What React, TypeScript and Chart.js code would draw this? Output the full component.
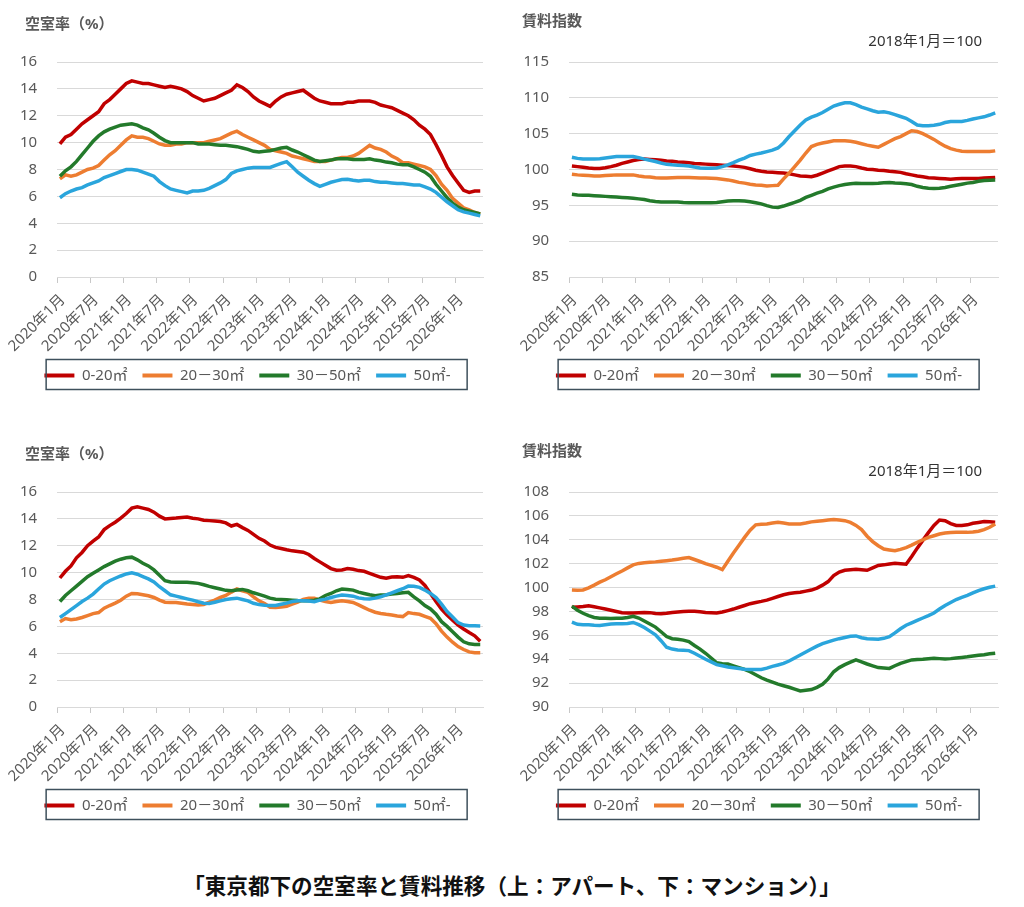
import React, { useEffect, useRef } from 'react';
import { Chart, registerables } from 'chart.js';

Chart.register(...registerables);

const FONT = '"Noto Sans", "Noto Sans CJK JP", sans-serif';
const TEXT = '#595959';
const GRID = '#d9d9d9';

// 2020年1月 .. 2026年5月 (77 months)
const months: string[] = [];
for (let i = 0; i < 77; i++) months.push(`${2020 + Math.floor(i / 12)}年${(i % 12) + 1}月`);

const sizeLabels = ['0-20㎡', '20－30㎡', '30－50㎡', '50㎡-'];
const lineColors = ['#c00000', '#ed7d31', '#237a2b', '#2aa5dc'];

// アパート 空室率
const apVac0_20 = [
  9.9, 10.4, 10.6, 11.0, 11.4, 11.7, 12.0, 12.3, 12.9, 13.2, 13.6, 14.0,
  14.4, 14.6, 14.5, 14.4, 14.4, 14.3, 14.2, 14.1, 14.2, 14.1, 14.0, 13.8,
  13.5, 13.3, 13.1, 13.2, 13.3, 13.5, 13.7, 13.9, 14.3, 14.1, 13.8, 13.4,
  13.1, 12.9, 12.7, 13.1, 13.4, 13.6, 13.7, 13.8, 13.9, 13.6, 13.3, 13.1,
  13.0, 12.9, 12.9, 12.9, 13.0, 13.0, 13.1, 13.1, 13.1, 13.0, 12.8, 12.7,
  12.6, 12.4, 12.2, 12.0, 11.7, 11.3, 11.0, 10.6, 9.85, 9.05, 8.2, 7.55,
  7.0, 6.45, 6.3, 6.4, 6.4,
];
const apVac20_30 = [
  7.3, 7.6, 7.5, 7.6, 7.8, 8.0, 8.1, 8.3, 8.7, 9.1, 9.4, 9.8,
  10.2, 10.5, 10.4, 10.4, 10.3, 10.1, 9.9, 9.8, 9.8, 9.9, 9.9, 10.0,
  10.0, 10.0, 10.0, 10.1, 10.2, 10.3, 10.5, 10.7, 10.85, 10.6, 10.4, 10.2,
  10.0, 9.8, 9.5, 9.4, 9.3, 9.2, 9.0, 8.9, 8.8, 8.7, 8.6, 8.6,
  8.6, 8.7, 8.8, 8.9, 8.9, 9.0, 9.2, 9.5, 9.8, 9.6, 9.5, 9.3,
  9.0, 8.8, 8.5, 8.5, 8.4, 8.3, 8.2, 8.0, 7.55, 6.9, 6.45, 5.85,
  5.5, 5.15, 5.0, 4.8, 4.7,
];
const apVac30_50 = [
  7.5, 7.9, 8.2, 8.6, 9.1, 9.6, 10.1, 10.5, 10.8, 11.0, 11.15, 11.3,
  11.35, 11.4, 11.3, 11.1, 10.95, 10.7, 10.4, 10.15, 10.0, 10.0, 10.0, 10.0,
  10.0, 9.9, 9.9, 9.9, 9.85, 9.8, 9.8, 9.75, 9.7, 9.6, 9.5, 9.35,
  9.3, 9.35, 9.4, 9.5, 9.6, 9.65, 9.45, 9.3, 9.1, 8.9, 8.7, 8.6,
  8.65, 8.7, 8.8, 8.8, 8.8, 8.75, 8.75, 8.75, 8.8, 8.7, 8.65, 8.55,
  8.5, 8.4, 8.35, 8.35, 8.2, 8.0, 7.8, 7.5, 6.9, 6.4, 5.9, 5.5,
  5.2, 5.0, 4.9, 4.8, 4.7,
];
const apVac50 = [
  5.9, 6.2, 6.4, 6.55, 6.65, 6.85, 7.0, 7.15, 7.4, 7.55, 7.7, 7.85,
  8.0, 8.0, 7.95, 7.8, 7.65, 7.5, 7.1, 6.8, 6.55, 6.45, 6.35, 6.25,
  6.4, 6.4, 6.45, 6.6, 6.8, 7.0, 7.25, 7.7, 7.9, 8.0, 8.1, 8.15,
  8.15, 8.15, 8.15, 8.3, 8.45, 8.58, 8.2, 7.8, 7.5, 7.2, 6.95, 6.75,
  6.9, 7.05, 7.15, 7.25, 7.28, 7.2, 7.15, 7.2, 7.2, 7.1, 7.05, 7.05,
  7.0, 6.95, 6.95, 6.9, 6.85, 6.85, 6.7, 6.55, 6.3, 5.95, 5.6, 5.3,
  5.0, 4.85, 4.75, 4.65, 4.55,
];

// アパート 賃料指数
const apRent0_20 = [
  100.5, 100.4, 100.3, 100.2, 100.15, 100.15, 100.25, 100.4, 100.6, 100.85, 101.05, 101.25,
  101.4, 101.45, 101.4, 101.35, 101.3, 101.2, 101.15, 101.05, 101.0, 100.95, 100.85, 100.8,
  100.75, 100.7, 100.65, 100.6, 100.55, 100.5, 100.4, 100.3, 100.1, 99.9, 99.75, 99.65,
  99.6, 99.55, 99.5, 99.4, 99.25, 99.1, 99.05, 99.0, 99.2, 99.5, 99.8, 100.1,
  100.4, 100.5, 100.5, 100.4, 100.2, 100.05, 100.0, 99.9, 99.85, 99.75, 99.7, 99.6,
  99.4, 99.25, 99.1, 99.0, 98.85, 98.8, 98.75, 98.7, 98.65, 98.7, 98.75, 98.75,
  98.75, 98.75, 98.8, 98.85, 98.9,
];
const apRent20_30 = [
  99.35, 99.25, 99.2, 99.15, 99.1, 99.1, 99.15, 99.2, 99.25, 99.25, 99.25, 99.25,
  99.1, 99.0, 98.95, 98.85, 98.8, 98.82, 98.86, 98.88, 98.88, 98.88, 98.85, 98.83,
  98.8, 98.78, 98.75, 98.65, 98.55, 98.4, 98.2, 98.1, 97.95, 97.85, 97.8, 97.7,
  97.75, 97.8, 98.7, 99.5, 100.4, 101.3, 102.3, 103.2, 103.5, 103.7, 103.85, 104.0,
  104.0, 104.0, 103.95, 103.8, 103.6, 103.4, 103.25, 103.1, 103.5, 103.9, 104.3, 104.6,
  105.0, 105.4, 105.3, 105.0, 104.6, 104.2, 103.7, 103.25, 102.9, 102.7, 102.55, 102.5,
  102.5, 102.5, 102.5, 102.5, 102.6,
];
const apRent30_50 = [
  96.55, 96.45, 96.4, 96.4, 96.35, 96.3, 96.25, 96.2, 96.15, 96.1, 96.05, 96.0,
  95.9, 95.8, 95.65, 95.55, 95.47, 95.47, 95.47, 95.45, 95.4, 95.37, 95.37, 95.37,
  95.37, 95.37, 95.4, 95.5, 95.6, 95.65, 95.65, 95.6, 95.5, 95.35, 95.2, 94.95,
  94.75, 94.7, 94.9, 95.15, 95.4, 95.7, 96.1, 96.4, 96.7, 96.95, 97.3, 97.55,
  97.75, 97.9, 98.0, 98.08, 98.05, 98.04, 98.05, 98.08, 98.15, 98.18, 98.12, 98.08,
  98.0, 97.9, 97.65, 97.5, 97.4, 97.35, 97.38, 97.5, 97.65, 97.8, 97.95, 98.1,
  98.2, 98.35, 98.45, 98.5, 98.55,
];
const apRent50 = [
  101.7, 101.55, 101.45, 101.45, 101.45, 101.5, 101.6, 101.7, 101.8, 101.82, 101.82, 101.82,
  101.65, 101.45, 101.3, 101.12, 100.9, 100.72, 100.65, 100.6, 100.55, 100.5, 100.35, 100.2,
  100.19, 100.19, 100.2, 100.4, 100.65, 100.95, 101.3, 101.6, 101.95, 102.15, 102.3, 102.5,
  102.7, 103.0, 103.7, 104.6, 105.4, 106.2, 106.9, 107.3, 107.6, 107.95, 108.4, 108.85,
  109.1, 109.3, 109.3, 109.05, 108.7, 108.45, 108.2, 108.0, 108.05, 107.9, 107.65, 107.4,
  107.15, 106.7, 106.2, 106.1, 106.12, 106.18, 106.3, 106.55, 106.7, 106.7, 106.7, 106.85,
  107.05, 107.2, 107.35, 107.6, 107.9,
];

// マンション 空室率
const mnVac0_20 = [
  9.6, 10.1, 10.5, 11.1, 11.5, 12.0, 12.35, 12.65, 13.2, 13.5, 13.75, 14.05,
  14.4, 14.8, 14.9, 14.8, 14.7, 14.5, 14.2, 14.0, 14.03, 14.06, 14.1, 14.14,
  14.05, 14.0, 13.9, 13.87, 13.84, 13.8, 13.7, 13.47, 13.59, 13.35, 13.14, 12.85,
  12.55, 12.35, 12.05, 11.88, 11.8, 11.7, 11.62, 11.58, 11.52, 11.35, 11.05, 10.8,
  10.55, 10.3, 10.18, 10.2, 10.3, 10.25, 10.15, 10.1, 9.95, 9.8, 9.65, 9.58,
  9.67, 9.7, 9.65, 9.78, 9.65, 9.45, 9.05, 8.45, 7.85, 7.28, 6.85, 6.45,
  6.1, 5.8, 5.54, 5.3, 4.9,
];
const mnVac20_30 = [
  6.35, 6.58, 6.5, 6.55, 6.66, 6.8, 6.95, 7.03, 7.35, 7.55, 7.73, 7.95,
  8.25, 8.45, 8.42, 8.35, 8.28, 8.15, 7.95, 7.8, 7.78, 7.78, 7.72, 7.66,
  7.63, 7.6, 7.63, 7.8, 7.95, 8.15, 8.3, 8.55, 8.78, 8.65, 8.53, 8.2,
  7.9, 7.7, 7.42, 7.4, 7.45, 7.5, 7.65, 7.8, 8.0, 8.1, 8.1, 7.95,
  7.85, 7.78, 7.85, 7.9, 7.85, 7.78, 7.6, 7.4, 7.2, 7.05, 6.96, 6.9,
  6.85, 6.78, 6.73, 7.03, 6.95, 6.9, 6.75, 6.6, 6.2, 5.65, 5.2, 4.82,
  4.5, 4.28, 4.1, 4.04, 4.04,
];
const mnVac30_50 = [
  7.85, 8.3, 8.65, 9.0, 9.35, 9.7, 9.95, 10.2, 10.45, 10.65, 10.85, 11.0,
  11.1, 11.15, 10.95, 10.7, 10.5, 10.2, 9.8, 9.4, 9.3, 9.28, 9.28, 9.28,
  9.25, 9.2, 9.1, 8.98, 8.88, 8.78, 8.68, 8.65, 8.7, 8.75, 8.65, 8.5,
  8.38, 8.25, 8.1, 8.02, 8.0, 7.98, 7.95, 7.92, 7.9, 7.9, 7.95, 8.05,
  8.3, 8.45, 8.65, 8.78, 8.75, 8.7, 8.55, 8.45, 8.35, 8.28, 8.33, 8.36,
  8.4, 8.45, 8.5, 8.53, 8.2, 7.9, 7.55, 7.3, 6.9, 6.35, 6.0, 5.6,
  5.2, 4.85, 4.7, 4.66, 4.66,
];
const mnVac50 = [
  6.66, 6.95, 7.25, 7.55, 7.85, 8.1, 8.4, 8.78, 9.15, 9.4, 9.58, 9.75,
  9.9, 9.98, 9.88, 9.7, 9.53, 9.3, 8.95, 8.65, 8.35, 8.25, 8.15, 8.05,
  7.95, 7.83, 7.72, 7.7, 7.8, 7.9, 8.0, 8.05, 8.1, 8.0, 7.9, 7.72,
  7.62, 7.58, 7.55, 7.55, 7.65, 7.73, 7.85, 7.9, 7.9, 7.88, 7.83, 7.95,
  8.03, 8.15, 8.25, 8.33, 8.3, 8.25, 8.12, 8.05, 8.03, 8.1, 8.2, 8.35,
  8.5, 8.65, 8.8, 9.0, 8.98, 8.9, 8.7, 8.45, 8.15, 7.65, 7.1, 6.7,
  6.28, 6.1, 6.05, 6.05, 6.03,
];

// マンション 賃料指数
const mnRent0_20 = [
  98.35, 98.38, 98.42, 98.48, 98.4, 98.3, 98.2, 98.1, 98.0, 97.9, 97.87, 97.87,
  97.9, 97.92, 97.9, 97.83, 97.8, 97.85, 97.92, 97.96, 98.0, 98.01, 98.01, 97.97,
  97.92, 97.9, 97.87, 97.95, 98.07, 98.2, 98.35, 98.5, 98.65, 98.75, 98.84, 98.95,
  99.1, 99.25, 99.4, 99.5, 99.56, 99.6, 99.7, 99.79, 99.95, 100.2, 100.5, 101.0,
  101.3, 101.45, 101.5, 101.53, 101.5, 101.45, 101.65, 101.85, 101.9, 101.98, 102.04, 102.0,
  101.95, 102.6, 103.3, 103.95, 104.6, 105.2, 105.65, 105.6, 105.35, 105.2, 105.19, 105.25,
  105.38, 105.45, 105.52, 105.5, 105.47,
];
const mnRent20_30 = [
  99.8, 99.78, 99.8, 99.98, 100.2, 100.45, 100.65, 100.9, 101.15, 101.39, 101.65, 101.9,
  102.02, 102.08, 102.12, 102.15, 102.2, 102.25, 102.3, 102.37, 102.45, 102.51, 102.35, 102.18,
  102.0, 101.85, 101.7, 101.5, 102.2, 102.9, 103.55, 104.2, 104.8, 105.25, 105.3, 105.33,
  105.4, 105.47, 105.4, 105.33, 105.33, 105.33, 105.4, 105.5, 105.55, 105.6, 105.65, 105.69,
  105.65, 105.6, 105.45, 105.2, 104.85, 104.3, 103.85, 103.5, 103.22, 103.15, 103.08, 103.2,
  103.35, 103.55, 103.78, 104.0, 104.2, 104.34, 104.48, 104.56, 104.6, 104.62, 104.62, 104.62,
  104.65, 104.72, 104.85, 105.05, 105.33,
];
const mnRent30_50 = [
  98.44, 98.1, 97.85, 97.65, 97.5, 97.44, 97.42, 97.4, 97.42, 97.44, 97.5, 97.6,
  97.45, 97.2, 96.95, 96.69, 96.3, 95.9, 95.72, 95.68, 95.6, 95.48, 95.15, 94.85,
  94.5, 94.1, 93.7, 93.62, 93.6, 93.45, 93.3, 93.15, 92.95, 92.7, 92.45, 92.25,
  92.08, 91.91, 91.78, 91.65, 91.5, 91.35, 91.4, 91.46, 91.65, 91.9, 92.35, 92.95,
  93.3, 93.55, 93.75, 93.94, 93.78, 93.6, 93.45, 93.3, 93.26, 93.23, 93.45, 93.66,
  93.8, 93.94, 93.97, 93.99, 94.04, 94.08, 94.05, 94.02, 94.05, 94.1, 94.15, 94.2,
  94.27, 94.33, 94.38, 94.45, 94.5,
];
const mnRent50 = [
  97.1, 96.92, 96.89, 96.89, 96.85, 96.83, 96.88, 96.94, 96.96, 96.97, 97.0, 97.08,
  96.9, 96.65, 96.35, 96.05, 95.55, 95.0, 94.85, 94.78, 94.75, 94.72, 94.5, 94.25,
  94.0, 93.78, 93.55, 93.45, 93.35, 93.28, 93.22, 93.17, 93.15, 93.15, 93.15, 93.25,
  93.4, 93.52, 93.65, 93.85, 94.1, 94.35, 94.6, 94.85, 95.1, 95.3, 95.45, 95.6,
  95.72, 95.82, 95.92, 95.95, 95.8, 95.71, 95.7, 95.68, 95.75, 95.88, 96.2, 96.55,
  96.85, 97.05, 97.25, 97.45, 97.65, 97.87, 98.2, 98.5, 98.75, 99.0, 99.18, 99.34,
  99.55, 99.75, 99.9, 100.02, 100.12,
];

type PanelProps = {
  title: string;
  note?: string;
  titleX: number;
  titleY: number;
  min: number;
  max: number;
  step: number;
  series: number[][];
  padLeft: number;
  padRight: number;
};

const Panel: React.FC<PanelProps> = ({ title, note, titleX, titleY, min, max, step, series, padLeft, padRight }) => {
  const canvasRef = useRef<HTMLCanvasElement>(null);

  useEffect(() => {
    const ctx = canvasRef.current?.getContext('2d');
    if (!ctx) return;

    // box round the legend, like the Excel legend frame
    const legendFrame = {
      id: 'legendFrame',
      afterDraw(chart: any) {
        const boxes = chart.legend?.legendHitBoxes;
        if (!boxes || !boxes.length) return;
        const cy = boxes[0].top + boxes[0].height / 2;
        const c = chart.ctx;
        c.save();
        c.strokeStyle = '#3e505c';
        c.lineWidth = 1.5;
        c.strokeRect(chart.chartArea.left - 11, cy - 16, 421, 30);
        c.restore();
      },
    };

    // axis heading at top-left and the base note at top-right
    const headings = {
      id: 'headings',
      afterDraw(chart: any) {
        const c = chart.ctx;
        c.save();
        c.textBaseline = 'middle';
        c.font = `bold 15px ${FONT}`;
        c.fillStyle = TEXT;
        c.textAlign = 'left';
        c.fillText(title, titleX, titleY);
        if (note) {
          c.font = `15px ${FONT}`;
          c.fillStyle = '#333333';
          c.textAlign = 'right';
          c.fillText(note, chart.chartArea.right - 16, 42);
        }
        c.restore();
      },
    };

    const chart = new Chart(ctx, {
      type: 'line',
      data: {
        labels: months,
        datasets: series.map((values, i) => ({
          label: sizeLabels[i],
          data: values,
          borderColor: lineColors[i],
          backgroundColor: lineColors[i],
          borderWidth: 3.5,
          pointRadius: 0,
          tension: 0,
          order: 4 - i,
        })),
      },
      options: {
        animation: false,
        responsive: false,
        maintainAspectRatio: false,
        layout: { padding: { left: padLeft, right: padRight, top: 62, bottom: 37 } },
        plugins: {
          title: { display: false },
          legend: {
            position: 'bottom',
            labels: {
              boxWidth: 30,
              boxHeight: 4,
              color: TEXT,
              font: { family: FONT, size: 15 },
              padding: 15,
              sort: (a: any, b: any) => a.datasetIndex - b.datasetIndex,
              generateLabels: (c: any) =>
                Chart.defaults.plugins.legend.labels.generateLabels(c).map((l: any) => ({ ...l, lineWidth: 0 })),
            },
          },
          tooltip: { enabled: false },
        },
        scales: {
          x: {
            offset: true,
            grid: {
              display: true,
              drawOnChartArea: false,
              drawTicks: true,
              tickLength: 6,
              offset: true,
              color: (c: any) => (c.index % 6 === 0 ? '#c8c8c8' : 'rgba(0,0,0,0)'),
            },
            border: { display: true, color: GRID },
            ticks: {
              autoSkip: false,
              minRotation: 45,
              maxRotation: 45,
              color: TEXT,
              font: { family: FONT, size: 15 },
              padding: 8,
              labelOffset: 3,
              callback: function (this: any, value: any, index: number) {
                return index % 6 === 0 ? this.getLabelForValue(value) : '';
              },
            },
            afterFit: (axis: any) => {
              axis.height = 76;
            },
          },
          y: {
            min,
            max,
            ticks: { stepSize: step, color: TEXT, font: { family: FONT, size: 15 }, padding: 20 },
            grid: { color: GRID, drawTicks: false },
            border: { display: false },
            afterFit: (axis: any) => {
              axis.width = 55 - padLeft;
            },
          },
        },
      },
      plugins: [legendFrame, headings],
    } as any);

    return () => chart.destroy();
  }, [title, note, titleX, titleY, min, max, step, series, padLeft, padRight]);

  return <canvas ref={canvasRef} width={512} height={430} style={{ display: 'block', width: 512, height: 430 }} />;
};

const App: React.FC = () => {
  return (
    <div style={{ position: 'absolute', left: 0, top: 0, width: 1024, height: 907, background: '#fff' }}>
      <div style={{ position: 'absolute', left: 0, top: 0 }}>
        <Panel title="空室率（%）" titleX={25} titleY={25} min={0} max={16} step={2} padLeft={12} padRight={29}
          series={[apVac0_20, apVac20_30, apVac30_50, apVac50]} />
      </div>
      <div style={{ position: 'absolute', left: 512, top: 0 }}>
        <Panel title="賃料指数" note="2018年1月＝100" titleX={10} titleY={22} min={85} max={115} step={5} padLeft={8} padRight={26}
          series={[apRent0_20, apRent20_30, apRent30_50, apRent50]} />
      </div>
      <div style={{ position: 'absolute', left: 0, top: 430 }}>
        <Panel title="空室率（%）" titleX={25} titleY={25} min={0} max={16} step={2} padLeft={12} padRight={29}
          series={[mnVac0_20, mnVac20_30, mnVac30_50, mnVac50]} />
      </div>
      <div style={{ position: 'absolute', left: 512, top: 430 }}>
        <Panel title="賃料指数" note="2018年1月＝100" titleX={10} titleY={22} min={90} max={108} step={2} padLeft={8} padRight={26}
          series={[mnRent0_20, mnRent20_30, mnRent30_50, mnRent50]} />
      </div>
      <div
        style={{
          position: 'absolute',
          left: 0,
          top: 871,
          width: 1024,
          textAlign: 'center',
          fontFamily: '"Noto Sans CJK JP", sans-serif',
          fontWeight: 'bold',
          fontSize: 21.6,
          lineHeight: '28px',
          color: '#111',
        }}
      >
        「東京都下の空室率と賃料推移（上：アパート、下：マンション）」
      </div>
    </div>
  );
};

export default App;
